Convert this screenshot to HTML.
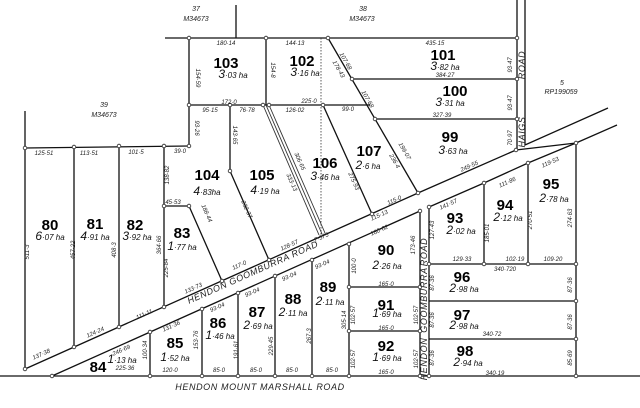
<!DOCTYPE html>
<html><head><meta charset="utf-8"><style>
html,body{margin:0;padding:0;background:#fff;width:640px;height:408px;overflow:hidden}
svg{display:block}
.l{stroke:#111;stroke-width:1.3;fill:none}
.t{stroke:#333;stroke-width:0.9;fill:none}
.n{fill:#fff;stroke:#222;stroke-width:0.8}
.b{font:bold 15px "Liberation Sans",sans-serif;fill:#000;text-anchor:middle}
.h{font:italic 8px "Liberation Sans",sans-serif;fill:#111;text-anchor:middle}
.d{font:italic 6px "Liberation Sans",sans-serif;fill:#222;text-anchor:middle}
.r{font:italic 9px "Liberation Sans",sans-serif;fill:#222;text-anchor:middle;letter-spacing:0.6px}
.s{font:italic 7px "Liberation Sans",sans-serif;fill:#222;text-anchor:middle}
</style></head><body>
<svg width="640" height="408" viewBox="0 0 640 408" xmlns="http://www.w3.org/2000/svg">
<g class="l">
<path d="M165 38H517"/>
<path d="M236 5V38"/>
<path d="M517 0V150"/>
<path d="M525 0V145L608 108"/>
<path d="M576 143L617 125"/>
<path d="M189 38V146"/>
<path d="M266 38V105"/>
<path d="M189 105H370"/>
<path d="M328 38L418 193"/>
<path d="M352 79H517"/>
<path d="M375 119H517"/>
<path d="M25 111V369"/>
<path d="M25 148L189 146"/>
<path d="M74 147V347"/>
<path d="M119 146V327"/>
<path d="M164 146V307"/>
<path d="M164 206H189L222 281"/>
<path d="M230 105V171L269 260"/>
<path d="M323 105L372 214"/>
<path d="M25 369L418 193L516 150L576 143"/>
<path d="M52 376L420 211"/>
<path d="M0 376H640"/>
<path d="M429 207L484 183L528 163L576 143"/>
<path d="M420 211V376"/>
<path d="M429 207V376"/>
<path d="M349 244V376"/>
<path d="M349 287H420"/>
<path d="M349 331H420"/>
<path d="M150 332V376"/>
<path d="M202 309V376"/>
<path d="M238 293V376"/>
<path d="M275 276V376"/>
<path d="M312 260V376"/>
<path d="M484 183V264"/>
<path d="M528 163V264"/>
<path d="M576 143V376"/>
<path d="M429 264H576"/>
<path d="M429 301H576"/>
<path d="M429 339H576"/>
</g>
<g class="t">
<path d="M263 105L319 235"/>
<path d="M266 105L322 234"/>
<path d="M269 105L325 233"/>
</g>
<path d="M321 38V235" stroke="#333" stroke-width="0.8" stroke-dasharray="1.5,1.5"/>
<g class="n">
<circle cx="189" cy="38" r="1.8"/><circle cx="266" cy="38" r="1.8"/><circle cx="328" cy="38" r="1.8"/><circle cx="517" cy="38" r="1.8"/>
<circle cx="352" cy="79" r="1.8"/><circle cx="517" cy="79" r="1.8"/><circle cx="375" cy="119" r="1.8"/><circle cx="517" cy="119" r="1.8"/>
<circle cx="189" cy="105" r="1.8"/><circle cx="230" cy="105" r="1.8"/><circle cx="263" cy="105" r="1.8"/><circle cx="269" cy="105" r="1.8"/><circle cx="323" cy="105" r="1.8"/>
<circle cx="25" cy="148" r="1.8"/><circle cx="74" cy="147" r="1.8"/><circle cx="119" cy="146" r="1.8"/><circle cx="164" cy="146" r="1.8"/><circle cx="189" cy="146" r="1.8"/>
<circle cx="230" cy="171" r="1.8"/><circle cx="164" cy="206" r="1.8"/><circle cx="189" cy="206" r="1.8"/>
<circle cx="25" cy="369" r="1.8"/><circle cx="74" cy="347" r="1.8"/><circle cx="119" cy="327" r="1.8"/><circle cx="164" cy="307" r="1.8"/><circle cx="222" cy="281" r="1.8"/><circle cx="269" cy="260" r="1.8"/><circle cx="372" cy="214" r="1.8"/><circle cx="418" cy="193" r="1.8"/><circle cx="516" cy="150" r="1.8"/><circle cx="576" cy="143" r="1.8"/>
<circle cx="52" cy="376" r="1.8"/><circle cx="150" cy="332" r="1.8"/><circle cx="202" cy="309" r="1.8"/><circle cx="238" cy="293" r="1.8"/><circle cx="275" cy="276" r="1.8"/><circle cx="312" cy="260" r="1.8"/><circle cx="349" cy="244" r="1.8"/><circle cx="420" cy="211" r="1.8"/><circle cx="429" cy="207" r="1.8"/><circle cx="484" cy="183" r="1.8"/><circle cx="528" cy="163" r="1.8"/>
<circle cx="150" cy="376" r="1.8"/><circle cx="202" cy="376" r="1.8"/><circle cx="238" cy="376" r="1.8"/><circle cx="275" cy="376" r="1.8"/><circle cx="312" cy="376" r="1.8"/><circle cx="349" cy="376" r="1.8"/><circle cx="420" cy="376" r="1.8"/><circle cx="429" cy="376" r="1.8"/><circle cx="576" cy="376" r="1.8"/>
<circle cx="349" cy="287" r="1.8"/><circle cx="420" cy="287" r="1.8"/><circle cx="349" cy="331" r="1.8"/><circle cx="420" cy="331" r="1.8"/>
<circle cx="429" cy="264" r="1.8"/><circle cx="484" cy="264" r="1.8"/><circle cx="528" cy="264" r="1.8"/><circle cx="576" cy="264" r="1.8"/><circle cx="576" cy="301" r="1.8"/><circle cx="576" cy="339" r="1.8"/>
</g>
<g class="s">
<text x="196" y="11">37</text><text x="196" y="21">M34673</text>
<text x="363" y="11">38</text><text x="362" y="21">M34673</text>
<text x="104" y="107">39</text><text x="104" y="117">M34673</text>
<text x="562" y="85">5</text><text x="561" y="94">RP199059</text>
</g>
<g class="b">
<text x="226" y="68">103</text><text x="302" y="66">102</text><text x="443" y="60">101</text><text x="455" y="96">100</text><text x="450" y="142">99</text>
<text x="369" y="156">107</text><text x="325" y="168">106</text><text x="207" y="180">104</text><text x="262" y="180">105</text>
<text x="50" y="230">80</text><text x="95" y="229">81</text><text x="135" y="230">82</text><text x="182" y="238">83</text>
<text x="98" y="372">84</text><text x="175" y="348">85</text><text x="218" y="328">86</text><text x="257" y="317">87</text><text x="293" y="304">88</text><text x="328" y="292">89</text>
<text x="386" y="255">90</text><text x="386" y="310">91</text><text x="386" y="351">92</text>
<text x="455" y="223">93</text><text x="505" y="210">94</text><text x="551" y="189">95</text>
<text x="462" y="282">96</text><text x="462" y="320">97</text><text x="465" y="356">98</text>
</g>
<g class="h">
<text x="233" y="78"><tspan font-size="12">3</tspan>·03 ha</text>
<text x="305" y="76"><tspan font-size="12">3</tspan>·16 ha</text>
<text x="445" y="70"><tspan font-size="12">3</tspan>·82 ha</text>
<text x="450" y="106"><tspan font-size="12">3</tspan>·31 ha</text>
<text x="453" y="154"><tspan font-size="12">3</tspan>·63 ha</text>
<text x="368" y="169"><tspan font-size="12">2</tspan>·6 ha</text>
<text x="325" y="180"><tspan font-size="12">3</tspan>·46 ha</text>
<text x="207" y="195"><tspan font-size="12">4</tspan>·83ha</text>
<text x="265" y="194"><tspan font-size="12">4</tspan>·19 ha</text>
<text x="50" y="240"><tspan font-size="12">6</tspan>·07 ha</text>
<text x="95" y="240"><tspan font-size="12">4</tspan>·91 ha</text>
<text x="137" y="240"><tspan font-size="12">3</tspan>·92 ha</text>
<text x="182" y="250"><tspan font-size="12">1</tspan>·77 ha</text>
<text x="122" y="363"><tspan font-size="12">1</tspan>·13 ha</text>
<text x="175" y="361"><tspan font-size="12">1</tspan>·52 ha</text>
<text x="220" y="339"><tspan font-size="12">1</tspan>·46 ha</text>
<text x="258" y="329"><tspan font-size="12">2</tspan>·69 ha</text>
<text x="293" y="316"><tspan font-size="12">2</tspan>·11 ha</text>
<text x="330" y="305"><tspan font-size="12">2</tspan>·11 ha</text>
<text x="387" y="269"><tspan font-size="12">2</tspan>·26 ha</text>
<text x="387" y="317"><tspan font-size="12">1</tspan>·69 ha</text>
<text x="387" y="361"><tspan font-size="12">1</tspan>·69 ha</text>
<text x="461" y="234"><tspan font-size="12">2</tspan>·02 ha</text>
<text x="508" y="221"><tspan font-size="12">2</tspan>·12 ha</text>
<text x="554" y="202"><tspan font-size="12">2</tspan>·78 ha</text>
<text x="464" y="292"><tspan font-size="12">2</tspan>·98 ha</text>
<text x="464" y="329"><tspan font-size="12">2</tspan>·98 ha</text>
<text x="468" y="366"><tspan font-size="12">2</tspan>·94 ha</text>
</g>
<text class="r" transform="translate(254,275) rotate(-24)" font-size="10">HENDON GOOMBURRA ROAD</text>
<text class="r" x="260" y="390">HENDON MOUNT MARSHALL ROAD</text>
<text class="r" transform="translate(427,359) rotate(-90)" font-size="8">HENDON</text>
<text class="r" transform="translate(427,300) rotate(-90)" font-size="8">GOOMBURRA</text>
<text class="r" transform="translate(427,252) rotate(-90)" font-size="8">ROAD</text>
<text class="r" transform="translate(525,65) rotate(-90)" font-size="10">ROAD</text>
<text class="r" transform="translate(525,132) rotate(-90)" font-size="10">HAIGS</text>
<g class="d">
<text x="226" y="45">180·14</text><text x="295" y="45">144·13</text><text x="435" y="45">435·15</text>
<text x="229" y="104">172·0</text><text x="210" y="112">95·15</text><text x="247" y="112">76·78</text><text x="309" y="103">225·0</text><text x="295" y="112">126·02</text><text x="348" y="111">99·0</text>
<text x="445" y="77">384·27</text><text x="442" y="117">327·39</text>
<text x="44" y="155">125·51</text><text x="89" y="155">113·51</text><text x="136" y="154">101·5</text><text x="180" y="153">39·0</text><text x="173" y="204">45·53</text>
<text x="386" y="286">165·0</text><text x="386" y="330">165·0</text><text x="386" y="374">165·0</text>
<text x="462" y="261">129·33</text><text x="515" y="261">102·19</text><text x="553" y="261">109·20</text><text x="505" y="271">340·720</text>
<text x="492" y="336">340·72</text><text x="495" y="375">340·19</text>
<text x="125" y="370">225·36</text><text x="170" y="372">120·0</text><text x="219" y="372">85·0</text><text x="256" y="372">85·0</text><text x="292" y="372">85·0</text><text x="332" y="372">85·0</text>
</g>
<g class="d">
<text transform="translate(470,168) rotate(-24)">249·55</text>
<text transform="translate(395,202) rotate(-24)">115·0</text>
<text transform="translate(380,217) rotate(-24)">115·13</text>
<text transform="translate(380,232) rotate(-24)">180·62</text>
<text transform="translate(322,239) rotate(-24)">7·575</text>
<text transform="translate(290,247) rotate(-24)">128·57</text>
<text transform="translate(240,267) rotate(-24)">117·0</text>
<text transform="translate(194,290) rotate(-24)">133·73</text>
<text transform="translate(145,316) rotate(-24)">111·11</text>
<text transform="translate(96,334) rotate(-24)">124·24</text>
<text transform="translate(42,356) rotate(-24)">137·38</text>
<text transform="translate(122,352) rotate(-24)">246·69</text>
<text transform="translate(172,328) rotate(-24)">131·36</text>
<text transform="translate(218,309) rotate(-24)">93·04</text>
<text transform="translate(253,294) rotate(-24)">93·04</text>
<text transform="translate(290,278) rotate(-24)">93·04</text>
<text transform="translate(323,266) rotate(-24)">93·04</text>
<text transform="translate(449,206) rotate(-24)">141·57</text>
<text transform="translate(508,184) rotate(-24)">111·86</text>
<text transform="translate(551,164) rotate(-24)">119·53</text>
<text transform="translate(344,62) rotate(60)">107·68</text>
<text transform="translate(337,70) rotate(60)">178·43</text>
<text transform="translate(366,100) rotate(60)">107·68</text>
<text transform="translate(403,152) rotate(60)">199·07</text>
<text transform="translate(393,162) rotate(60)">236·4</text>
<text transform="translate(352,182) rotate(66)">275·93</text>
<text transform="translate(298,162) rotate(66)">306·65</text>
<text transform="translate(290,183) rotate(66)">333·13</text>
<text transform="translate(205,214) rotate(66)">188·44</text>
<text transform="translate(245,210) rotate(66)">232·37</text>
</g>
<g class="d">
<text transform="translate(196,78) rotate(90)">154·59</text>
<text transform="translate(271,70) rotate(90)">154·8</text>
<text transform="translate(195,128) rotate(90)">93·26</text>
<text transform="translate(233,135) rotate(90)">143·65</text>
<text transform="translate(512,65) rotate(-90)">93·47</text>
<text transform="translate(512,103) rotate(-90)">93·47</text>
<text transform="translate(512,138) rotate(-90)">70·97</text>
<text transform="translate(169,175) rotate(-90)">138·82</text>
<text transform="translate(29,252) rotate(-90)">511·3</text>
<text transform="translate(75,250) rotate(-90)">457·22</text>
<text transform="translate(116,250) rotate(-90)">408·3</text>
<text transform="translate(161,245) rotate(-90)">364·66</text>
<text transform="translate(168,268) rotate(-90)">225·84</text>
<text transform="translate(147,350) rotate(-90)">100·34</text>
<text transform="translate(198,340) rotate(-90)">153·76</text>
<text transform="translate(238,350) rotate(-90)">191·61</text>
<text transform="translate(273,346) rotate(-90)">229·45</text>
<text transform="translate(311,336) rotate(-90)">267·3</text>
<text transform="translate(346,320) rotate(-90)">305·14</text>
<text transform="translate(356,266) rotate(-90)">100·0</text>
<text transform="translate(415,245) rotate(-90)">173·46</text>
<text transform="translate(355,315) rotate(-90)">102·57</text>
<text transform="translate(418,315) rotate(-90)">102·57</text>
<text transform="translate(355,359) rotate(-90)">102·57</text>
<text transform="translate(418,359) rotate(-90)">102·57</text>
<text transform="translate(434,230) rotate(-90)">127·43</text>
<text transform="translate(489,233) rotate(-90)">185·01</text>
<text transform="translate(532,220) rotate(-90)">270·51</text>
<text transform="translate(572,218) rotate(-90)">274·63</text>
<text transform="translate(434,283) rotate(-90)">87·36</text>
<text transform="translate(572,285) rotate(-90)">87·36</text>
<text transform="translate(434,320) rotate(-90)">87·36</text>
<text transform="translate(572,322) rotate(-90)">87·36</text>
<text transform="translate(434,358) rotate(-90)">87·36</text>
<text transform="translate(572,358) rotate(-90)">85·69</text>
</g>
</svg>
</body></html>
